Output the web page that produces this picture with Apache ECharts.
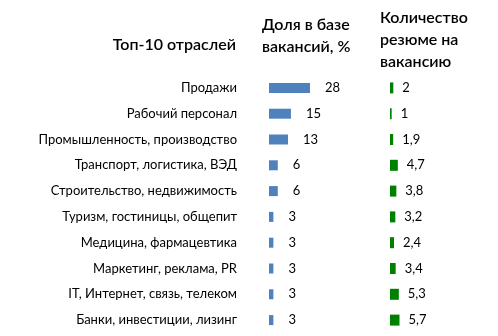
<!DOCTYPE html>
<html>
<head>
<meta charset="utf-8">
<script src="https://cdn.jsdelivr.net/npm/echarts@6/dist/echarts.min.js"></script>
<style>
  html, body { margin: 0; padding: 0; background: #fff; }
  #eCharts { width: 498px; height: 336px; }
</style>
</head>
<body>
<div id="eCharts"></div>
<script>
var industries = [
    'Продажи', 'Рабочий персонал', 'Промышленность, производство',
    'Транспорт, логистика, ВЭД', 'Строительство, недвижимость',
    'Туризм, гостиницы, общепит', 'Медицина, фармацевтика',
    'Маркетинг, реклама, PR', 'IT, Интернет, связь, телеком',
    'Банки, инвестиции, лизинг'
];
var shareValues = [28, 15, 13, 6, 6, 3, 3, 3, 3, 3];
var resumeValues = [2, 1, 1.9, 4.7, 3.8, 3.2, 2.4, 3.4, 5.3, 5.7];

var fontName = 'Lato';
var myChart = echarts.init(document.getElementById('eCharts'));

// подписи с запятой как в оригинале
function commaLabel(p) {
    return String(p.value).replace('.', ',');
}

var headStyle = {fontSize: 16, fontWeight: 600, color: '#000', lineHeight: 22, fontFamily: fontName};

var option = {
    animation: false,
    textStyle: {fontFamily: fontName},
    title: [
        {text: 'Топ-10 отраслей', left: 236, top: 34, padding: 0, textAlign: 'right', textStyle: headStyle},
        {text: 'Доля в базе\nвакансий, %', left: 262, top: 14, padding: 0, textStyle: headStyle},
        {text: 'Количество\nрезюме на\nвакансию', left: 380, top: 7, padding: 0, textStyle: headStyle}
    ],
    grid: [
        {left: 269, top: 75, width: 60, height: 258},
        {left: 390, top: 75, width: 40, height: 258}
    ],
    xAxis: [
        {type: 'value', gridIndex: 0, min: 0, max: 41, show: false},
        {type: 'value', gridIndex: 1, min: 0, max: 24, show: false}
    ],
    yAxis: [
        {type: 'category', gridIndex: 0, inverse: true, data: industries,
            axisLine: {show: false}, axisTick: {show: false}, splitLine: {show: false},
            axisLabel: {margin: 32, fontSize: 13, color: '#000', fontFamily: fontName}},
        {type: 'category', gridIndex: 1, inverse: true, data: industries, show: false}
    ],
    series: [
        {type: 'bar', xAxisIndex: 0, yAxisIndex: 0, data: shareValues, barWidth: 10,
            itemStyle: {color: '#4f81bd'},
            label: {show: true, position: 'right', distance: 15, fontSize: 13, color: '#000', fontFamily: fontName}},
        {type: 'bar', xAxisIndex: 1, yAxisIndex: 1, data: resumeValues, barWidth: 11,
            itemStyle: {color: '#008000'},
            label: {show: true, position: 'right', distance: 9, fontSize: 13, color: '#000',
                fontFamily: fontName, formatter: commaLabel}}
    ]
};

myChart.setOption(option);
</script>
</body>
</html>
